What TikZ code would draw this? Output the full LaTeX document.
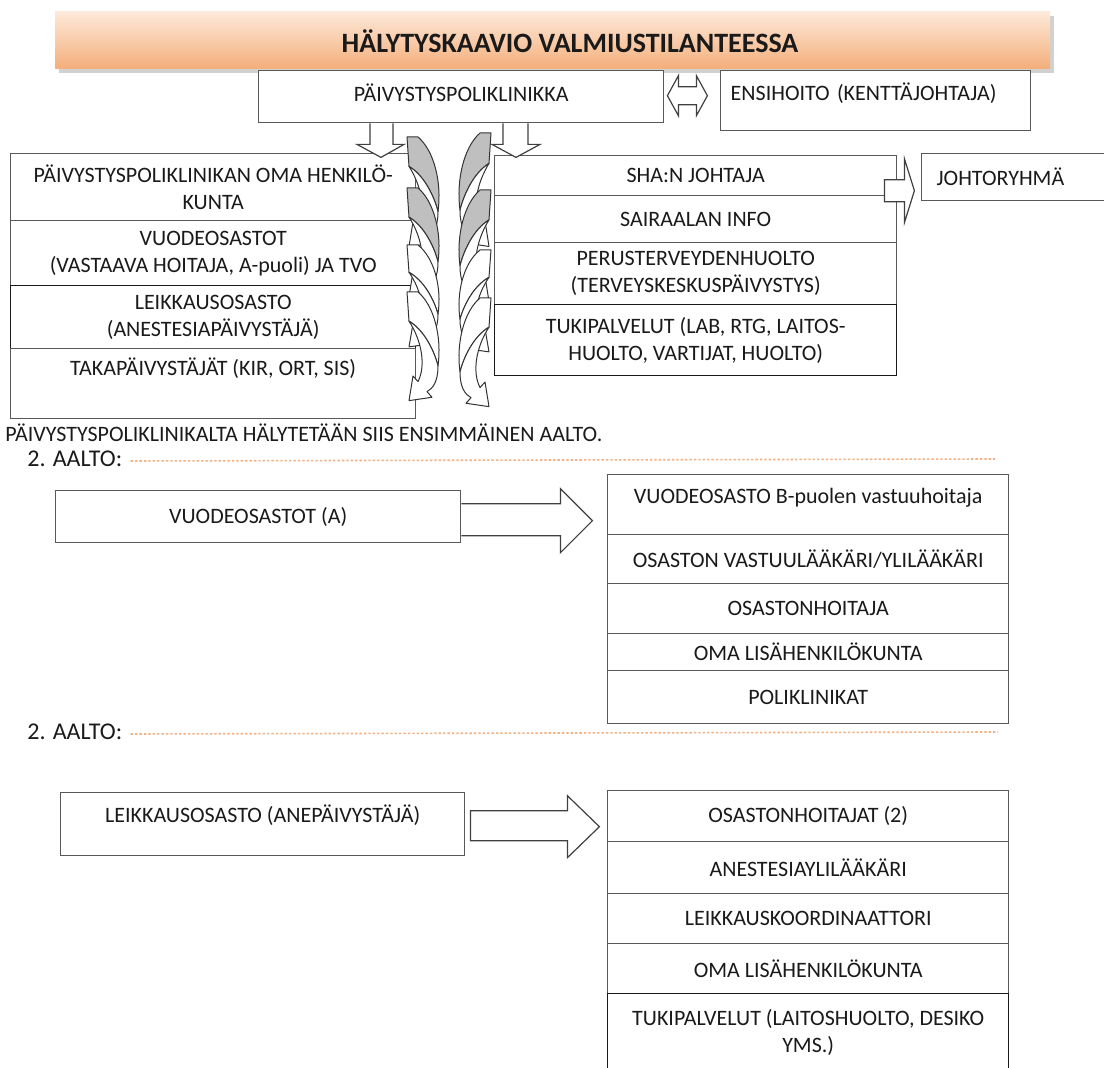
\documentclass[tikz,border=0pt]{standalone}
\usepackage{fontspec}
\setmainfont{Carlito}
\usetikzlibrary{calc}
\definecolor{bannertop}{HTML}{FDE9D9}
\definecolor{bannerbot}{HTML}{F4AE7A}
\definecolor{dotline}{HTML}{F4B183}
\definecolor{ink}{HTML}{1A1A1A}
\tikzset{
  box/.style={draw=black!65,line width=0.7pt,fill=white,anchor=north west,inner sep=2pt,
    align=center,text=ink,font=\fontsize{11}{13.5}\selectfont},
  lift/.style={text depth=#1},
  plain/.style={anchor=west,inner sep=0pt,text=ink,font=\fontsize{11}{13.5}\selectfont},
  blockarrow/.style={draw=black!75,line width=0.6pt,fill=white,line join=miter},
  ribbon/.style={draw=black!80,line width=0.5pt,fill=white,line join=round},
  wave/.style={draw=dotline,line width=0.8pt,dash pattern=on 1.2pt off 1pt}
}
% one twisted curved arrow, 100 units high, pointing left; #1 = colour of its back
\def\ribbonshape#1{%
  \draw[ribbon,fill=#1] (407,0) -- (409,26) .. controls (424,34) and (434,52) .. (438,66)
    .. controls (442,40) and (434,12) .. (418,0) -- cycle;
  \draw[ribbon] (409,26) .. controls (424,34) and (434,52) .. (438,66)
    .. controls (438,80) and (433,86) .. (427,89) -- (432,94) -- (409,97) -- (413,75)
    -- (418,80) .. controls (426,66) and (422,44) .. (409,26) -- cycle;}
\def\ribbonL#1#2#3{\begin{scope}[shift={(0,#1)},yscale={(#2-#1)/100}]\ribbonshape{#3}\end{scope}}
\def\ribbonR#1#2#3{\begin{scope}[shift={(898,#1)},xscale=-1,yscale={(#2-#1)/100}]\ribbonshape{#3}\end{scope}}

\begin{document}
\begin{tikzpicture}[x=0.5pt,y=-0.5pt]
    \useasboundingbox (0,0) rectangle (1104,1068);
    % banner
    \fill[black!18] (59,16) rectangle (1054,73);
    \shade[top color=bannertop,bottom color=bannerbot] (55,12) rectangle (1050,69);
    \node[font=\fontsize{14}{17}\selectfont\bfseries,text=ink] (title) at (570,41) {HÄLYTYSKAAVIO VALMIUSTILANTEESSA};

    \node[box,minimum width=202.5pt,minimum height=26pt,lift=4.5pt] (pkl) at (258,70) {PÄIVYSTYSPOLIKLINIKKA};
    \node[box,minimum height=30pt,text width=145pt,align=left,inner xsep=5pt,lift=9.5pt] (ens) at (720,70) {ENSIHOITO (KENTTÄJOHTAJA)};

    % first wave, left
    \node[box,minimum width=202.5pt,minimum height=33.5pt] (oma) at (10,153) {PÄIVYSTYSPOLIKLINIKAN OMA HENKILÖ-\\KUNTA};
    \node[box,minimum width=202.5pt,minimum height=32.5pt] (vuo) at (10,220) {VUODEOSASTOT\\(VASTAAVA HOITAJA, A-puoli) JA TVO};
    \node[box,draw=black!90,minimum width=202.5pt,minimum height=31.5pt] (lei) at (10,285) {LEIKKAUSOSASTO\\(ANESTESIAPÄIVYSTÄJÄ)};
    \node[box,minimum width=202.5pt,minimum height=35pt,lift=16.7pt] (tak) at (10,348) {TAKAPÄIVYSTÄJÄT (KIR, ORT, SIS)};

    % first wave, right
    \node[box,minimum width=201pt,minimum height=20pt] (sha) at (494,155) {SHA:N JOHTAJA};
    \node[box,minimum width=201pt,minimum height=23.5pt] (inf) at (494,195) {SAIRAALAN INFO};
    \node[box,minimum width=201pt,minimum height=31pt] (pth) at (494,242) {PERUSTERVEYDENHUOLTO\\(TERVEYSKESKUSPÄIVYSTYS)};
    \node[box,draw=black!90,minimum width=201pt,minimum height=35.5pt] (tuki) at (494,304) {TUKIPALVELUT (LAB, RTG, LAITOS-\\HUOLTO, VARTIJAT, HUOLTO)};
    \node[box,minimum height=23.5pt,text width=85pt,align=left,inner xsep=7.5pt] (joh) at (921,153) {JOHTORYHMÄ};

    % block arrows at the top
    \draw[blockarrow] (pkl.east) ++(3,-1) -- ++(11,-20) -- ++(0,11) -- ++(18,0) -- ++(0,-11) -- ++(11,20)
        -- ++(-11,20) -- ++(0,-11) -- ++(-18,0) -- ++(0,11) -- cycle;
    \draw[blockarrow] (pkl.south west) ++(112,0) -- ++(0,21) -- ++(-13,0) -- ++(24,13) -- ++(23,-13) -- ++(-11,0) -- ++(0,-21);
    \draw[blockarrow] (pkl.south west) ++(245,0) -- ++(0,21) -- ++(-11,0) -- ++(24,13) -- ++(24,-13) -- ++(-12,0) -- ++(0,-21);
    \draw[blockarrow] (sha.east) ++(-13,4) -- ++(20,0) -- ++(0,-21) -- ++(10,32) -- ++(-10,32) -- ++(0,-21) -- ++(-20,0) -- cycle;

    % curved arrows
    \ribbonL{137}{250}{black!25}
    \ribbonL{188}{300}{black!25}
    \ribbonL{245}{350}{white}
    \ribbonL{292}{404}{white}
    \ribbonR{133}{250}{black!25}
    \ribbonR{190}{305}{black!25}
    \ribbonR{250}{355}{white}
    \ribbonR{298}{410}{white}

    \node[plain] (first) at (5,433) {PÄIVYSTYSPOLIKLINIKALTA HÄLYTETÄÄN SIIS ENSIMMÄINEN AALTO.};

    % second wave, wards
    \node[plain,font=\fontsize{12}{14}\selectfont] (aalto1) at (27,459) {2. AALTO:};
    \coordinate (aalto1end) at (995,461);
    \draw[wave] ([shift={(4pt,-1pt)}]aalto1.east) -- (aalto1.east -| aalto1end);
    \node[box,minimum width=202.5pt,minimum height=26pt] (vosA) at (55,490) {VUODEOSASTOT (A)};
    \node[box,minimum width=200.5pt,minimum height=30pt,lift=9.3pt] (vb) at (607,474) {VUODEOSASTO B-puolen vastuuhoitaja};
    \node[box,minimum width=200.5pt,minimum height=24.5pt] (vlk) at (607,534) {OSASTON VASTUULÄÄKÄRI/YLILÄÄKÄRI};
    \node[box,minimum width=200.5pt,minimum height=25pt] (voh) at (607,583) {OSASTONHOITAJA};
    \node[box,minimum width=200.5pt,minimum height=18.5pt] (vlis) at (607,633) {OMA LISÄHENKILÖKUNTA};
    \node[box,minimum width=200.5pt,minimum height=26.5pt] (vpol) at (607,670) {POLIKLINIKAT};
    \draw[blockarrow] (vosA.east) ++(0,-13) -- ++(99,0) -- ++(0,-15) -- ++(32,32) -- ++(-32,32) -- ++(0,-17) -- ++(-99,0);

    % second wave, surgery
    \node[plain,font=\fontsize{12}{14}\selectfont] (aalto2) at (27,732) {2. AALTO:};
    \coordinate (aalto2end) at (998,734);
    \draw[wave] ([shift={(4pt,-1pt)}]aalto2.east) -- (aalto2.east -| aalto2end);
    \node[box,minimum width=202pt,minimum height=31.5pt,lift=11pt] (leiA) at (60,792) {LEIKKAUSOSASTO (ANEPÄIVYSTÄJÄ)};
    \node[box,minimum width=200.5pt,minimum height=25.5pt] (loh) at (607,790) {OSASTONHOITAJAT (2)};
    \node[box,minimum width=200.5pt,minimum height=26pt] (lane) at (607,841) {ANESTESIAYLILÄÄKÄRI};
    \node[box,minimum width=200.5pt,minimum height=25pt] (lkoo) at (607,893) {LEIKKAUSKOORDINAATTORI};
    \node[box,minimum width=200.5pt,minimum height=25pt] (llis) at (607,943) {OMA LISÄHENKILÖKUNTA};
    \node[box,draw=black!90,minimum width=200.5pt,minimum height=39pt] (ltuk) at (607,993) {TUKIPALVELUT (LAITOSHUOLTO, DESIKO\\YMS.)};
    \draw[blockarrow] (leiA.east) ++(5,-13.5) -- ++(97,0) -- ++(0,-15) -- ++(32,31) -- ++(-32,31) -- ++(0,-17) -- ++(-97,0) -- cycle;
\end{tikzpicture}
\end{document}
